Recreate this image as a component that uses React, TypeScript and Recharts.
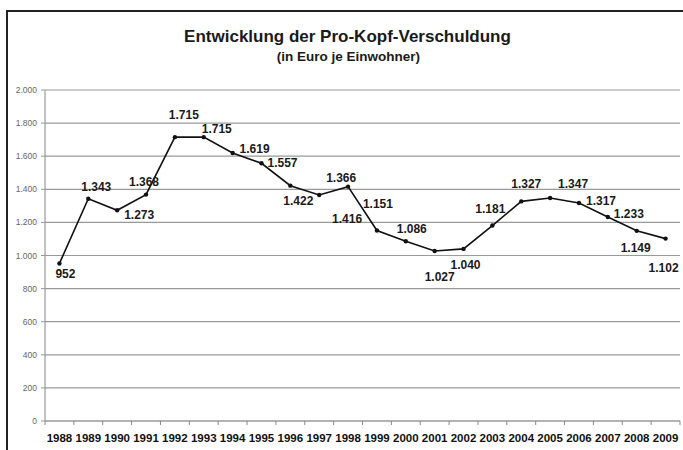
import React from "react";
import { LineChart, Line, XAxis, YAxis, CartesianGrid } from "recharts";

const years = [
  "1988", "1989", "1990", "1991", "1992", "1993", "1994", "1995", "1996", "1997", "1998",
  "1999", "2000", "2001", "2002", "2003", "2004", "2005", "2006", "2007", "2008", "2009",
];
const debtPerCapita = [
  952, 1343, 1273, 1368, 1715, 1715, 1619, 1557, 1422, 1366, 1416,
  1151, 1086, 1027, 1040, 1181, 1327, 1347, 1317, 1233, 1149, 1102,
];
const yTicks = [0, 200, 400, 600, 800, 1000, 1200, 1400, 1600, 1800, 2000];

const data = years.map((y, i) => ({ year: y, value: debtPerCapita[i] }));

// label placement (style only): offset of label centre from its point
const labelOffsets: [number, number][] = [
  [6, 11], [8, -12], [22, 5], [-2, -13], [9, -22], [13, -8], [22, -4], [21, 0],
  [8, 15], [22, -17], [-1, 32], [1, -27], [6, -12], [5, 26], [2, 16], [-2, -17],
  [5, -17], [23, -14], [22, -2], [21, -3], [-1, 17], [-2, 29],
];

const fmt = (n: number) => String(n).replace(/\B(?=(\d{3})+(?!\d))/g, ".");

const W = 683;
const H = 450;
const M = { top: 90, right: 3, bottom: 0, left: 0 };
const YW = 45;
const XH = 29;
const PLOT_W = W - M.left - M.right - YW;
const BAND = PLOT_W / years.length;

const FONT = "'Liberation Sans', Arial, sans-serif";

const XTick = (props: any) => {
  const { x, y, payload, index } = props;
  const last = index === years.length - 1;
  return (
    <g>
      <line x1={x - BAND / 2} x2={x - BAND / 2} y1={y - 8} y2={y - 4} stroke="#888" strokeWidth={1} />
      {last && (
        <line x1={x + BAND / 2} x2={x + BAND / 2} y1={y - 8} y2={y - 4} stroke="#888" strokeWidth={1} />
      )}
      <text
        x={x}
        y={y + 9}
        textAnchor="middle"
        dominantBaseline="central"
        fontFamily={FONT}
        fontWeight="bold"
        fontSize={11.5}
        fill="#111"
      >
        {payload.value}
      </text>
    </g>
  );
};

const YTick = (props: any) => {
  const { x, y, payload } = props;
  return (
    <text
      x={x - 2}
      y={y}
      textAnchor="end"
      dominantBaseline="central"
      fontFamily={FONT}
      fontSize={8.5}
      fill="#666"
    >
      {fmt(payload.value)}
    </text>
  );
};

const renderLabel = (props: any) => {
  const { x, y, value, index } = props;
  const off = labelOffsets[index] || [0, -12];
  return (
    <text
      key={`lbl-${index}`}
      x={x + off[0]}
      y={y + off[1]}
      textAnchor="middle"
      dominantBaseline="central"
      fontFamily={FONT}
      fontWeight="bold"
      fontSize={12}
      fill="#1a1a1a"
    >
      {fmt(value)}
    </text>
  );
};

export default function App() {
  return (
    <div
      style={{
        position: "absolute",
        left: 0,
        top: 0,
        width: W,
        height: H,
        background: "#fff",
        overflow: "hidden",
      }}
    >
      <div
        style={{
          position: "absolute",
          left: 6,
          top: 10,
          width: W,
          height: H,
          borderLeft: "2px solid #222",
          borderTop: "2px solid #222",
        }}
      />
      <div
        style={{
          position: "absolute",
          left: 0,
          width: W,
          top: 27,
          textAlign: "center",
          fontFamily: FONT,
          fontWeight: "bold",
          fontSize: 17,
          lineHeight: "20px",
          color: "#1a1a1a",
          paddingLeft: 12,
          boxSizing: "border-box",
        }}
      >
        Entwicklung der Pro-Kopf-Verschuldung
      </div>
      <div
        style={{
          position: "absolute",
          left: 0,
          width: W,
          top: 49,
          textAlign: "center",
          fontFamily: FONT,
          fontWeight: "bold",
          fontSize: 13.5,
          lineHeight: "16px",
          color: "#1a1a1a",
          paddingLeft: 14,
          boxSizing: "border-box",
        }}
      >
        (in Euro je Einwohner)
      </div>
      <div style={{ position: "absolute", left: 0, top: 0 }}>
        <LineChart width={W} height={H} data={data} margin={M}>
          <CartesianGrid vertical={false} stroke="#999" strokeWidth={1.2} />
          <XAxis
            dataKey="year"
            height={XH}
            interval={0}
            padding={{ left: BAND / 2, right: BAND / 2 }}
            tickLine={false}
            axisLine={{ stroke: "#999", strokeWidth: 1.2 }}
            tick={<XTick />}
          />
          <YAxis
            width={YW}
            domain={[0, 2000]}
            ticks={yTicks}
            interval={0}
            tickSize={4}
            tickLine={{ stroke: "#999" }}
            axisLine={{ stroke: "#999", strokeWidth: 1.2 }}
            tick={<YTick />}
          />
          <Line
            type="linear"
            dataKey="value"
            stroke="#111"
            strokeWidth={1.6}
            dot={{ r: 2.2, fill: "#111", stroke: "#111", strokeWidth: 0 }}
            isAnimationActive={false}
            label={renderLabel}
          />
        </LineChart>
      </div>
    </div>
  );
}
